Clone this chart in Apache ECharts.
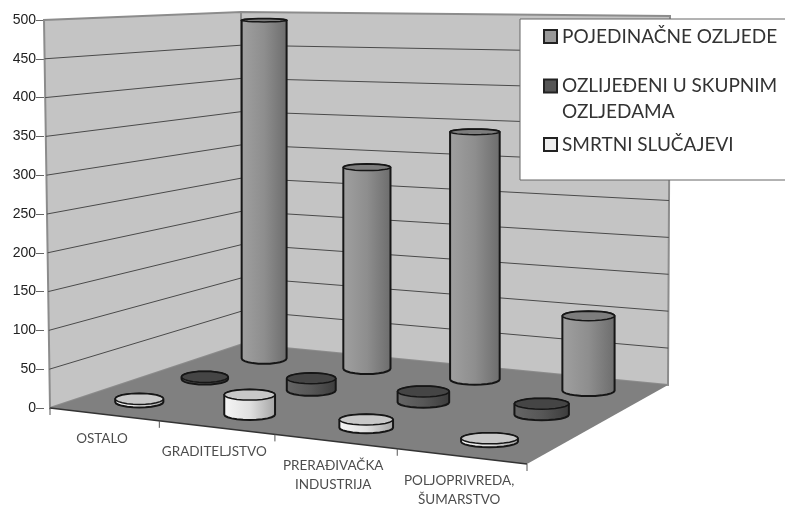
<!DOCTYPE html>
<html>
<head>
<meta charset="utf-8">
<title>Ozljede</title>
<script src="https://cdn.jsdelivr.net/npm/echarts@6/dist/echarts.min.js"></script>
<style>
  html, body { margin: 0; padding: 0; background: #fff; }
  #chart { width: 785px; height: 507px; }
</style>
</head>
<body>
<div id="chart"></div>
<script>
// podaci
var categories = ["OSTALO", "GRADITELJSTVO", "PRERAĐIVAČKA\nINDUSTRIJA", "POLJOPRIVREDA,\nŠUMARSTVO"];
var seriesNames = ["POJEDINAČNE OZLJEDE", "OZLIJEĐENI U SKUPNIM\nOZLJEDAMA", "SMRTNI SLUČAJEVI"];
var pojedinacne = [490, 284, 340, 100];
var ozlijedeni = [3, 16, 14, 14];
var smrtni = [4, 25, 10, 4];
var yTicks = [0, 50, 100, 150, 200, 250, 300, 350, 400, 450, 500];

// kutija grafa (kutovi poda i vrha u pikselima)
var floorQuad = [[50, 408], [527, 464], [668, 385], [243, 344]];
var topQuad = [[44, 20], [532, 42], [670, 16], [241, 12]];

function homography(q) {
  var dx1 = q[1][0] - q[2][0], dx2 = q[3][0] - q[2][0], sx = q[0][0] - q[1][0] + q[2][0] - q[3][0];
  var dy1 = q[1][1] - q[2][1], dy2 = q[3][1] - q[2][1], sy = q[0][1] - q[1][1] + q[2][1] - q[3][1];
  var d = dx1 * dy2 - dx2 * dy1;
  var g = (sx * dy2 - dx2 * sy) / d, h = (dx1 * sy - sx * dy1) / d;
  var a = q[1][0] - q[0][0] + g * q[1][0], b = q[3][0] - q[0][0] + h * q[3][0];
  var c = q[1][1] - q[0][1] + g * q[1][1], e = q[3][1] - q[0][1] + h * q[3][1];
  return function (u, v) {
    var w = g * u + h * v + 1;
    return [(a * u + b * v + q[0][0]) / w, (c * u + e * v + q[0][1]) / w];
  };
}
var floorMap = homography(floorQuad);
var topMap = homography(topQuad);

// u duž kategorija, v u dubinu, t visina 0..1
function project(u, v, t) {
  var p0 = floorMap(u, v), p1 = topMap(u, v);
  return [p0[0] + (p1[0] - p0[0]) * t, p0[1] + (p1[1] - p0[1]) * t];
}

function heightOf(api, cs, value) {
  return (cs.y + cs.height - api.coord([0, value])[1]) / cs.height;
}

function renderWalls(params, api) {
  var cs = params.coordSys;
  var kids = [];
  var wallStyle = { fill: "#c4c4c4", stroke: "#8c8c8c", lineWidth: 2 };
  kids.push({ type: "polygon", shape: { points: [project(0, 0, 0), project(0, 1, 0), project(0, 1, 1), project(0, 0, 1)] }, style: wallStyle });
  kids.push({ type: "polygon", shape: { points: [project(0, 1, 0), project(1, 1, 0), project(1, 1, 1), project(0, 1, 1)] }, style: wallStyle });
  kids.push({ type: "polygon", shape: { points: [project(0, 0, 0), project(1, 0, 0), project(1, 1, 0), project(0, 1, 0)] }, style: { fill: "#808080" } });

  yTicks.slice(1, -1).forEach(function (tick) {
    var t = heightOf(api, cs, tick);
    kids.push({
      type: "polyline",
      shape: { points: [project(0, 0, t), project(0, 1, t), project(1, 1, t)] },
      style: { fill: null, stroke: "#4a4a4a", lineWidth: 1 }
    });
  });

  kids.push({ type: "line", shape: { x1: project(0, 0, 0)[0], y1: project(0, 0, 0)[1], x2: project(1, 0, 0)[0], y2: project(1, 0, 0)[1] }, style: { stroke: "#333", lineWidth: 1.5 } });
  for (var i = 0; i <= categories.length; i++) {
    var p = project(i / categories.length, 0, 0);
    kids.push({ type: "line", shape: { x1: p[0], y1: p[1], x2: p[0], y2: p[1] + 7 }, style: { stroke: "#555", lineWidth: 1 } });
  }
  return { type: "group", children: kids };
}

function cylinderRenderer(depth, colors) {
  return function (params, api) {
    var cs = params.coordSys;
    var cat = api.value(0), val = api.value(1);
    var u = (api.coord([cat, 0])[0] - cs.x) / cs.width;
    var v = (depth + 0.5) / 3;
    var t = heightOf(api, cs, val);
    var base = project(u, v, 0);
    // stupci su okomiti, samo y ide po perspektivi
    var top = [base[0], project(u, v, t)[1]];
    var rx = (project(u + 0.056, v, 0)[0] - project(u - 0.056, v, 0)[0]) / 2;
    var ryBase = 5.5, ryTop = 1.5 + 4 * (1 - t);
    var body = [], cap = [], n = 24, k, a;
    for (k = 0; k <= n / 2; k++) {
      a = Math.PI * k / (n / 2);
      body.push([base[0] + rx * Math.cos(a), base[1] + ryBase * Math.sin(a)]);
    }
    for (k = 0; k <= n / 2; k++) {
      a = Math.PI + Math.PI * k / (n / 2);
      body.push([top[0] + rx * Math.cos(a), top[1] + ryTop * Math.sin(a)]);
    }
    for (k = 0; k < n; k++) {
      a = 2 * Math.PI * k / n;
      cap.push([top[0] + rx * Math.cos(a), top[1] + ryTop * Math.sin(a)]);
    }
    return {
      type: "group",
      children: [
        {
          type: "polygon",
          shape: { points: body },
          style: {
            fill: new echarts.graphic.LinearGradient(0, 0, 1, 0, [
              { offset: 0, color: colors[0] },
              { offset: 0.5, color: colors[1] },
              { offset: 1, color: colors[2] }
            ]),
            stroke: "#161616",
            lineWidth: 2
          }
        },
        { type: "polygon", shape: { points: cap }, style: { fill: colors[3], stroke: "#161616", lineWidth: 1.5 } }
      ]
    };
  };
}

function renderCategoryLabel(params, api) {
  var cs = params.coordSys;
  var i = api.value(0);
  var p = project((api.coord([i, 0])[0] - cs.x) / cs.width, 0, 0);
  return {
    type: "text",
    style: {
      x: p[0] - 2, y: p[1] + 15,
      text: categories[i], align: "center", verticalAlign: "top",
      fill: "#4d4d4d", font: "13.5px Lato", lineHeight: 19
    }
  };
}

function toRows(values) {
  return values.map(function (val, i) { return [i, val]; });
}

var chart = echarts.init(document.getElementById("chart"));
chart.setOption({
  animation: false,
  backgroundColor: "#fff",
  grid: { left: 44, top: 20, width: 480, height: 388, containLabel: false },
  xAxis: { type: "category", data: categories, show: false },
  yAxis: {
    type: "value", min: 0, max: 500, interval: 50,
    splitLine: { show: false },
    axisLine: { show: false },
    axisTick: { show: true, length: 8, lineStyle: { color: "#666" } },
    axisLabel: { color: "#222", fontFamily: "Liberation Sans", fontSize: 14, margin: 8, padding: [0, 0, 5, 0] }
  },
  legend: {
    left: 520, top: 19,
    orient: "vertical", align: "left",
    padding: [8, 30, 17, 23],
    itemGap: 1, itemWidth: 13, itemHeight: 13,
    icon: "rect",
    backgroundColor: "#fff", borderColor: "#666", borderWidth: 1,
    textStyle: { fontFamily: "Lato", fontSize: 19, color: "#333" },
    selectedMode: false,
    formatter: function (name) {
      return name.indexOf("\n") >= 0 ? "\u00a0\n" + name : name;
    },
    data: [
      { name: seriesNames[0], textStyle: { lineHeight: 13 }, itemStyle: { color: "#999", borderColor: "#222", borderWidth: 2 } },
      { name: seriesNames[1], textStyle: { lineHeight: 26 }, itemStyle: { color: "#555", borderColor: "#222", borderWidth: 2 } },
      { name: seriesNames[2], textStyle: { lineHeight: 37 }, itemStyle: { color: "#eee", borderColor: "#222", borderWidth: 2 } }
    ]
  },
  series: [
    { type: "custom", name: "zidovi", silent: true, z: 1, renderItem: renderWalls, data: [[0, 0]] },
    { type: "custom", name: seriesNames[0], z: 2, renderItem: cylinderRenderer(2, ["#a0a0a0", "#8e8e8e", "#6c6c6c", "#7d7d7d"]), data: toRows(pojedinacne), itemStyle: { color: "#999" } },
    { type: "custom", name: seriesNames[1], z: 3, renderItem: cylinderRenderer(1, ["#666", "#575757", "#3c3c3c", "#454545"]), data: toRows(ozlijedeni), itemStyle: { color: "#555" } },
    { type: "custom", name: seriesNames[2], z: 4, renderItem: cylinderRenderer(0, ["#f6f6f6", "#e0e0e0", "#a4a4a4", "#c8c8c8"]), data: toRows(smrtni), itemStyle: { color: "#eee" } },
    { type: "custom", name: "oznake", silent: true, z: 5, renderItem: renderCategoryLabel, data: categories.map(function (c, i) { return [i, 0]; }) }
  ]
});
</script>
</body>
</html>
